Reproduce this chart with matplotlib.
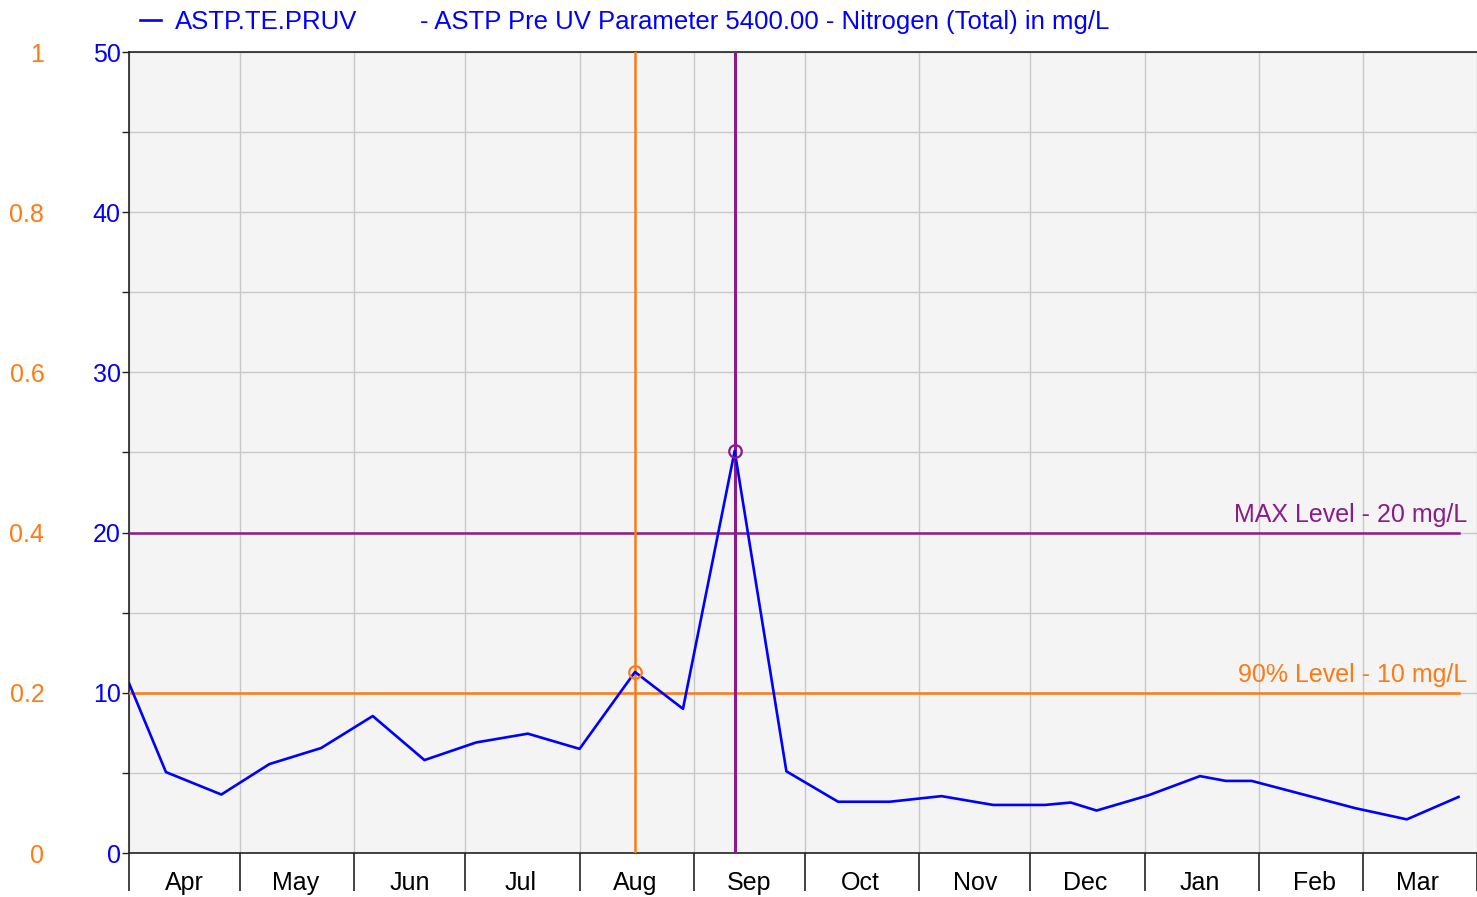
import datetime as dt
import matplotlib
matplotlib.use("Agg")
import matplotlib.pyplot as plt
import matplotlib.dates as mdates
from matplotlib.transforms import blended_transform_factory

plt.rcParams['font.family'] = ['Liberation Sans', 'DejaVu Sans']

# sample dates and Nitrogen (Total) values in mg/L
dates = ["2022-04-01", "2022-04-11", "2022-04-26", "2022-05-09", "2022-05-23",
         "2022-06-06", "2022-06-20", "2022-07-04", "2022-07-18", "2022-08-01",
         "2022-08-16", "2022-08-29", "2022-09-12", "2022-09-26", "2022-10-10",
         "2022-10-24", "2022-11-07", "2022-11-21", "2022-12-05", "2022-12-12",
         "2022-12-19", "2023-01-02", "2023-01-16", "2023-01-23", "2023-01-30",
         "2023-02-13", "2023-02-27", "2023-03-13", "2023-03-27"]
values = [10.6, 5.05, 3.65, 5.55, 6.55, 8.55, 5.8, 6.9, 7.45, 6.5,
          11.3, 9.0, 25.1, 5.1, 3.2, 3.2, 3.55, 3.0, 3.0, 3.15,
          2.65, 3.6, 4.8, 4.5, 4.5, 3.65, 2.8, 2.1, 3.5]
month_labels = ["Apr", "May", "Jun", "Jul", "Aug", "Sep", "Oct", "Nov",
                "Dec", "Jan", "Feb", "Mar"]
series_name = "ASTP.TE.PRUV"
description = "- ASTP Pre UV Parameter 5400.00 - Nitrogen (Total) in mg/L"
max_level = 20
pct90_level = 10
pct90_date = "2022-08-16"
max_date = "2022-09-12"
right_ticks = [0, 0.2, 0.4, 0.6, 0.8, 1]

BLUE = "#0000FF"
PURPLE = "#8B1A8B"
ORANGE = "#FF7A12"

x = [dt.datetime.strptime(d, "%Y-%m-%d") for d in dates]
start = dt.datetime(2022, 4, 1)
end = dt.datetime(2023, 4, 1)

fig = plt.figure(figsize=(14.77, 8.97), dpi=100)
ax = fig.add_axes([129 / 1477, 44 / 897, 1348 / 1477, 801 / 897])
ax.set_facecolor("#F4F4F4")

frac_end = (x[-1] - start) / (end - start)
ax.axhline(max_level, xmin=0, xmax=frac_end, color=PURPLE, lw=1.8, zorder=3)
ax.axhline(pct90_level, xmin=0, xmax=frac_end, color=ORANGE, lw=1.8, zorder=3)
x90 = dt.datetime.strptime(pct90_date, "%Y-%m-%d")
xmax = dt.datetime.strptime(max_date, "%Y-%m-%d")
ax.axvline(x90, color=ORANGE, lw=1.8, zorder=3)
ax.axvline(xmax, color=PURPLE, lw=2.2, zorder=3)

ax.plot(x, values, color=BLUE, lw=1.9, zorder=4, label=series_name)
ax.plot([x90], [values[x.index(x90)]], 'o', mfc='none', mec=ORANGE, ms=9, mew=1.6, zorder=5)
ax.plot([xmax], [values[x.index(xmax)]], 'o', mfc='none', mec=PURPLE, ms=9, mew=1.6, zorder=5)

tr = blended_transform_factory(ax.transAxes, ax.transData)
ax.text(0.9926, max_level + 0.35, "MAX Level - 20 mg/L", transform=tr, ha='right', va='bottom',
        color=PURPLE, fontsize=18)
ax.text(0.9926, pct90_level + 0.35, "90% Level - 10 mg/L", transform=tr, ha='right', va='bottom',
        color=ORANGE, fontsize=18)

ax.set_xlim(start, end)
ax.set_ylim(0, 50)

# month boundaries as major ticks, labels at mid-month
ax.xaxis.set_major_locator(mdates.MonthLocator())
ax.xaxis.set_major_formatter(plt.NullFormatter())
ax.xaxis.set_minor_locator(mdates.MonthLocator(bymonthday=16))
ax.xaxis.set_minor_formatter(mdates.DateFormatter("%b"))
ax.tick_params(axis='x', which='major', length=27, width=1.2, color='#222222')
ax.tick_params(axis='x', which='minor', length=0, pad=13, labelsize=18, labelcolor='black')

ax.set_yticks(range(0, 51, 10))
ax.set_yticks(range(5, 50, 10), minor=True)
ax.tick_params(axis='y', which='both', length=5, width=1, pad=1, labelsize=18,
               labelcolor=BLUE, color='#222222')

ax.grid(True, which='major', axis='x', color='#C8C8C8', lw=1)
ax.grid(True, which='both', axis='y', color='#C8C8C8', lw=1)
ax.set_axisbelow(True)

for s in ['top', 'left', 'bottom']:
    ax.spines[s].set_color('#222222')
    ax.spines[s].set_linewidth(1.2)
ax.spines['right'].set_visible(False)

ax2 = ax.twinx()
ax2.set_ylim(0, 1)
ax2.set_yticks(right_ticks)
ax2.set_yticklabels([f"{t:g}" for t in right_ticks])
ax2.yaxis.set_ticks_position('left')
ax2.yaxis.set_label_position('left')
ax2.spines['left'].set_position(('outward', 61))
for s in ax2.spines.values():
    s.set_visible(False)
ax2.tick_params(axis='y', length=0, pad=0, labelsize=18, labelcolor=ORANGE)

ax.legend(loc='center left', bbox_to_anchor=(140 / 1477, 1 - 22 / 897), bbox_transform=fig.transFigure,
          frameon=False, fontsize=18.5, labelcolor=BLUE, handlelength=0.8, handletextpad=0.55,
          borderpad=0, borderaxespad=0)
fig.text(420 / 1477, 1 - 22 / 897, description, color=BLUE, fontsize=18.5, ha='left', va='center')

fig.savefig("out.png", dpi=100)
